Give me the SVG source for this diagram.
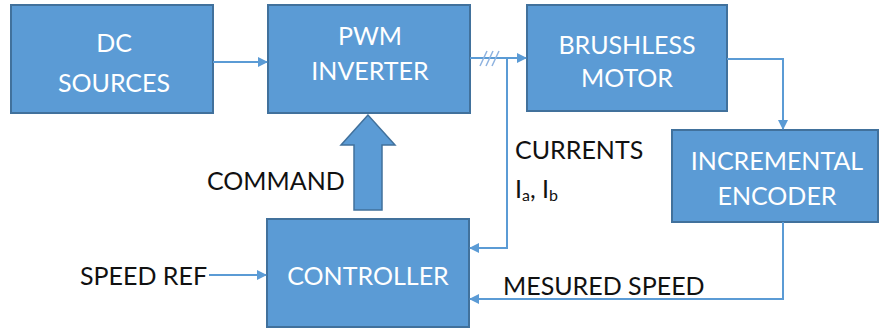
<svg xmlns="http://www.w3.org/2000/svg" width="881" height="332" viewBox="0 0 881 332">
<style>
.box{fill:#5b9bd5;stroke:#41719c;stroke-width:2}
.bt{fill:#ffffff;font-family:Lato,"Liberation Sans",sans-serif;font-size:25px;text-anchor:middle}
.lb{fill:#111111;font-family:Lato,"Liberation Sans",sans-serif;font-size:25px}
.ln{fill:none;stroke:#5b9bd5;stroke-width:2}
</style>
<defs>
<marker id="ah" markerWidth="10" markerHeight="10" refX="9" refY="5" orient="auto" markerUnits="userSpaceOnUse">
<path d="M0,0 L10,5 L0,10 Z" fill="#5b9bd5"/>
</marker>
</defs>
<rect width="881" height="332" fill="#ffffff"/>
<g id="dc-sources">
<rect class="box" x="11" y="5" width="202" height="108"/>
<text class="bt" x="114" y="52">DC</text>
<text class="bt" x="114" y="92">SOURCES</text>
</g>
<g id="pwm-inverter">
<rect class="box" x="268" y="5" width="202" height="108"/>
<text class="bt" x="370" y="45">PWM</text>
<text class="bt" x="370" y="80">INVERTER</text>
</g>
<g id="brushless-motor">
<rect class="box" x="527" y="5" width="200" height="106"/>
<text class="bt" x="627" y="54">BRUSHLESS</text>
<text class="bt" x="627" y="87">MOTOR</text>
</g>
<g id="incremental-encoder">
<rect class="box" x="672" y="130" width="206" height="92"/>
<text class="bt" x="777" y="170">INCREMENTAL</text>
<text class="bt" x="777" y="205">ENCODER</text>
</g>
<g id="controller">
<rect class="box" x="267" y="219" width="202" height="108"/>
<text class="bt" x="368" y="285">CONTROLLER</text>
</g>
<g id="connectors">
<line class="ln" x1="213" y1="62" x2="267" y2="62" marker-end="url(#ah)"/>
<line class="ln" x1="470" y1="58" x2="526" y2="58" marker-end="url(#ah)"/>
<g stroke="#8fb3e0" stroke-width="1.5">
<line x1="480" y1="66" x2="487" y2="51"/>
<line x1="486" y1="66" x2="493" y2="51"/>
<line x1="492" y1="66" x2="499" y2="51"/>
</g>
<polyline class="ln" points="727,59 783,59 783,129" marker-end="url(#ah)"/>
<polyline class="ln" points="507,58 507,248 470,248" marker-end="url(#ah)"/>
<polyline class="ln" points="783,222 783,299 470,299" marker-end="url(#ah)"/>
<line class="ln" x1="209" y1="275" x2="266" y2="275" marker-end="url(#ah)"/>
<polygon points="368,115 341,145 354,145 354,210 382,210 382,145 395,145" fill="#5b9bd5" stroke="#41719c" stroke-width="1.5"/>
</g>
<g id="labels">
<text class="lb" x="207" y="190">COMMAND</text>
<text class="lb" x="80" y="285">SPEED REF</text>
<text class="lb" x="515" y="159">CURRENTS</text>
<text class="lb" x="515" y="198">I<tspan font-size="16" dy="3">a</tspan><tspan dy="-3">, I</tspan><tspan font-size="16" dy="3">b</tspan></text>
<text class="lb" x="503" y="295">MESURED SPEED</text>
</g>
</svg>
